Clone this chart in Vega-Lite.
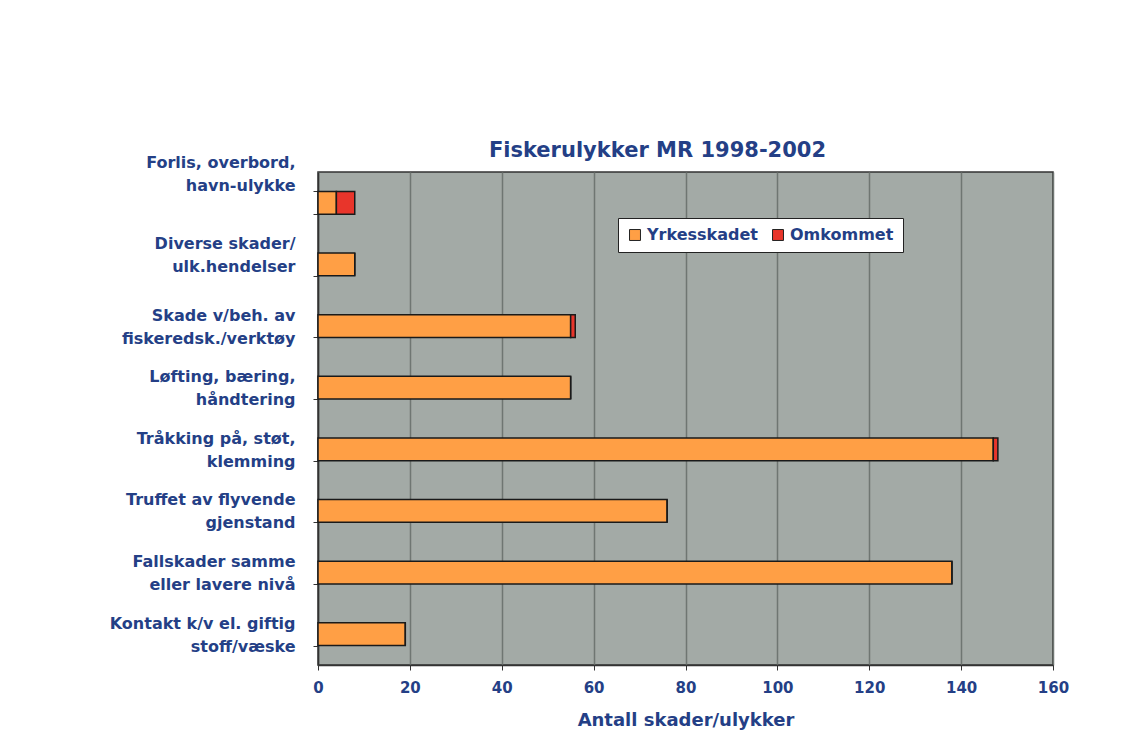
{
  "$schema": "https://vega.github.io/schema/vega-lite/v6.json",
  "width": 735,
  "height": 493,
  "autosize": {"type": "none"},
  "padding": {"left": 318, "top": 172, "right": 92, "bottom": 90},
  "background": "white",
  "title": {
    "text": "Fiskerulykker MR 1998-2002",
    "font": "DejaVu Sans",
    "fontSize": 21,
    "fontWeight": "bold",
    "color": "#243F86",
    "anchor": "middle",
    "dx": -28,
    "offset": -6
  },
  "data": {
    "values": [
      {"kategori": "Forlis, overbord,|havn-ulykke", "type": "Yrkesskadet", "antall": 4, "o": 1},
      {"kategori": "Forlis, overbord,|havn-ulykke", "type": "Omkommet", "antall": 4, "o": 2},
      {"kategori": "Diverse skader/|ulk.hendelser", "type": "Yrkesskadet", "antall": 8, "o": 1},
      {"kategori": "Diverse skader/|ulk.hendelser", "type": "Omkommet", "antall": 0, "o": 2},
      {"kategori": "Skade v/beh. av|fiskeredsk./verktøy", "type": "Yrkesskadet", "antall": 55, "o": 1},
      {"kategori": "Skade v/beh. av|fiskeredsk./verktøy", "type": "Omkommet", "antall": 1, "o": 2},
      {"kategori": "Løfting, bæring,|håndtering", "type": "Yrkesskadet", "antall": 55, "o": 1},
      {"kategori": "Løfting, bæring,|håndtering", "type": "Omkommet", "antall": 0, "o": 2},
      {"kategori": "Tråkking på, støt,|klemming", "type": "Yrkesskadet", "antall": 147, "o": 1},
      {"kategori": "Tråkking på, støt,|klemming", "type": "Omkommet", "antall": 1, "o": 2},
      {"kategori": "Truffet av flyvende|gjenstand", "type": "Yrkesskadet", "antall": 76, "o": 1},
      {"kategori": "Truffet av flyvende|gjenstand", "type": "Omkommet", "antall": 0, "o": 2},
      {"kategori": "Fallskader samme|eller lavere nivå", "type": "Yrkesskadet", "antall": 138, "o": 1},
      {"kategori": "Fallskader samme|eller lavere nivå", "type": "Omkommet", "antall": 0, "o": 2},
      {"kategori": "Kontakt k/v el. giftig|stoff/væske", "type": "Yrkesskadet", "antall": 19, "o": 1},
      {"kategori": "Kontakt k/v el. giftig|stoff/væske", "type": "Omkommet", "antall": 0, "o": 2}
    ]
  },
  "mark": {"type": "bar", "stroke": "#1a1a1a", "strokeWidth": 1.5},
  "encoding": {
    "y": {
      "field": "kategori",
      "type": "nominal",
      "sort": null,
      "scale": {"paddingInner": 0.63, "paddingOuter": 0.315},
      "axis": {
        "title": null,
        "labelExpr": "datum.value ? split(datum.value, '|') : ''",
        "labelFont": "DejaVu Sans",
        "labelFontSize": 16,
        "labelFontWeight": "bold",
        "labelColor": "#243F86",
        "labelLineHeight": 23,
        "labelPadding": 18,
        "labelLimit": 300,
        "labelOffset": {"condition": [
          {"test": "datum.value == 'Forlis, overbord,|havn-ulykke'", "value": -40},
          {"test": "datum.value == 'Diverse skader/|ulk.hendelser'", "value": -21}
        ], "value": -11},
        "tickBand": "extent",
        "tickSize": 5,
        "tickColor": "#333333",
        "domainColor": "#333333",
        "domainWidth": 1.5,
        "grid": false
      }
    },
    "x": {
      "field": "antall",
      "type": "quantitative",
      "stack": "zero",
      "scale": {"domain": [0, 160], "nice": false},
      "axis": {
        "title": "Antall skader/ulykker",
        "titleFont": "DejaVu Sans",
        "titleFontSize": 18,
        "titleFontWeight": "bold",
        "titleColor": "#243F86",
        "titlePadding": 16,
        "values": [0, 20, 40, 60, 80, 100, 120, 140, 160],
        "labelFlush": false,
        "labelFont": "DejaVu Sans",
        "labelFontSize": 15,
        "labelFontWeight": "bold",
        "labelColor": "#243F86",
        "labelPadding": 10,
        "tickSize": 5,
        "tickColor": "#333333",
        "domainColor": "#333333",
        "domainWidth": 1.5,
        "grid": true,
        "gridColor": "#6F7672",
        "gridWidth": 1.5
      }
    },
    "color": {
      "field": "type",
      "type": "nominal",
      "scale": {"domain": ["Yrkesskadet", "Omkommet"], "range": ["#FF9F45", "#E8352B"]},
      "legend": {
        "title": null,
        "orient": "none",
        "legendX": 300,
        "legendY": 46,
        "direction": "horizontal",
        "fillColor": "white",
        "strokeColor": "#222222",
        "padding": 9,
        "symbolType": "square",
        "symbolSize": 120,
        "symbolStrokeColor": "#222222",
        "symbolStrokeWidth": 1,
        "labelFont": "DejaVu Sans",
        "labelFontSize": 16,
        "labelFontWeight": "bold",
        "labelColor": "#243F86",
        "columnPadding": 12,
        "labelOffset": 4
      }
    },
    "order": {"field": "o", "type": "quantitative"}
  },
  "config": {
    "view": {"fill": "#A3AAA6", "stroke": "#333333", "strokeWidth": 1.5}
  }
}
